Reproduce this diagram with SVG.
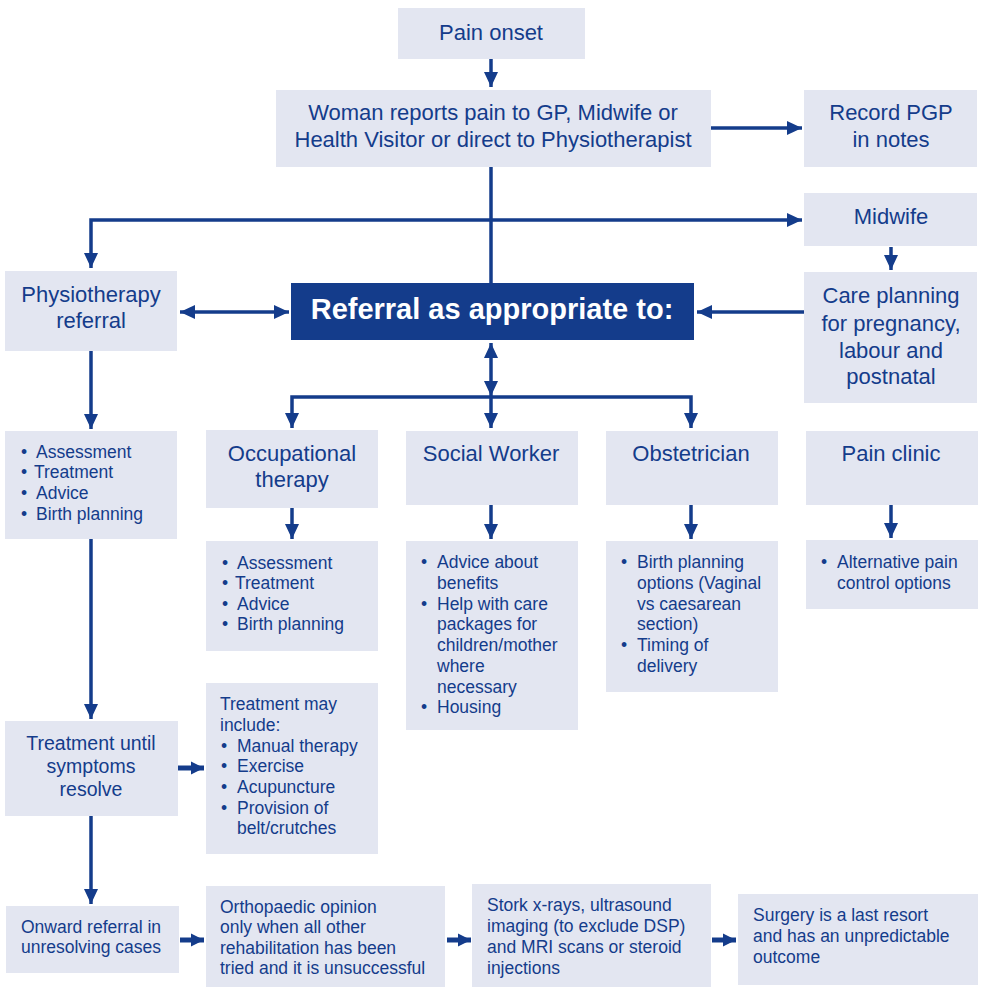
<svg xmlns="http://www.w3.org/2000/svg" width="982" height="987" viewBox="0 0 982 987">
<defs>
<style>
.box{fill:#e3e6f1}
.dark{fill:#143c8b}
text{font-family:"Liberation Sans",Arial,sans-serif;fill:#143c8b}
.h{font-size:22px;text-anchor:middle}
.m{font-size:19.5px;text-anchor:middle}
.s{font-size:17.5px}
.sc{font-size:17.5px;text-anchor:middle}
.w{font-size:29px;font-weight:bold;fill:#ffffff;text-anchor:middle}
.ln{fill:none;stroke:#143c8b;stroke-width:3.5}
.fat{fill:none;stroke:#143c8b;stroke-width:5}
</style>
<marker id="ah" markerUnits="userSpaceOnUse" markerWidth="16" markerHeight="14" refX="15" refY="7" orient="auto-start-reverse" viewBox="0 0 16 14">
<path d="M0,0 L15,7 L0,14 z" fill="#143c8b"/>
</marker>
<marker id="ahs" markerUnits="userSpaceOnUse" markerWidth="14" markerHeight="14" refX="13" refY="7" orient="auto" viewBox="0 0 14 14">
<path d="M0,0.5 L13,7 L0,13.5 z" fill="#143c8b"/>
</marker>
</defs>
<rect width="982" height="987" fill="#ffffff"/>

<g id="connectors">
<line class="ln" x1="491" y1="59" x2="491" y2="87" marker-end="url(#ah)"/>
<line class="ln" x1="711" y1="128" x2="802" y2="128" marker-end="url(#ah)"/>
<line class="ln" x1="491" y1="167" x2="491" y2="284"/>
<path class="ln" d="M91,268 L91,220 L802,220" marker-start="url(#ah)" marker-end="url(#ah)"/>
<line class="ln" x1="891" y1="247" x2="891" y2="270" marker-end="url(#ah)"/>
<line class="ln" x1="804" y1="312" x2="697" y2="312" marker-end="url(#ah)"/>
<line class="ln" x1="180" y1="312" x2="289" y2="312" marker-start="url(#ah)" marker-end="url(#ah)"/>
<line class="ln" x1="491" y1="343" x2="491" y2="396" marker-start="url(#ah)" marker-end="url(#ah)"/>
<path class="ln" d="M292,428 L292,397 L691,397 L691,428" marker-start="url(#ah)" marker-end="url(#ah)"/>
<line class="ln" x1="491" y1="397" x2="491" y2="428" marker-end="url(#ah)"/>
<line class="ln" x1="91" y1="351" x2="91" y2="429" marker-end="url(#ah)"/>
<line class="ln" x1="91" y1="539" x2="91" y2="719" marker-end="url(#ah)"/>
<line class="ln" x1="292" y1="508" x2="292" y2="539" marker-end="url(#ah)"/>
<line class="ln" x1="491" y1="505" x2="491" y2="539" marker-end="url(#ah)"/>
<line class="ln" x1="691" y1="505" x2="691" y2="539" marker-end="url(#ah)"/>
<line class="ln" x1="891" y1="505" x2="891" y2="538" marker-end="url(#ah)"/>
<line class="ln" x1="91" y1="816" x2="91" y2="904" marker-end="url(#ah)"/>
<line class="fat" x1="178" y1="768" x2="204" y2="768" marker-end="url(#ahs)"/>
<line class="fat" x1="180" y1="940" x2="204" y2="940" marker-end="url(#ahs)"/>
<line class="fat" x1="447" y1="940" x2="471" y2="940" marker-end="url(#ahs)"/>
<line class="fat" x1="712" y1="940" x2="736" y2="940" marker-end="url(#ahs)"/>
</g>

<g id="pain-onset">
<rect class="box" x="398" y="8" width="187" height="51"/>
<text class="h" x="491" y="40">Pain onset</text>
</g>

<g id="woman-reports">
<rect class="box" x="276" y="90" width="435" height="77"/>
<text class="h" x="493" y="120">Woman reports pain to GP, Midwife or</text>
<text class="h" x="493" y="147">Health Visitor or direct to Physiotherapist</text>
</g>

<g id="record-pgp">
<rect class="box" x="804" y="90" width="173" height="77"/>
<text class="h" x="891" y="120">Record PGP</text>
<text class="h" x="891" y="147">in notes</text>
</g>

<g id="midwife">
<rect class="box" x="804" y="193" width="173" height="53"/>
<text class="h" x="891" y="224">Midwife</text>
</g>

<g id="care-planning">
<rect class="box" x="804" y="272" width="173" height="131"/>
<text class="h" x="891" y="303">Care planning</text>
<text class="h" x="891" y="331">for pregnancy,</text>
<text class="h" x="891" y="358">labour and</text>
<text class="h" x="891" y="384">postnatal</text>
</g>

<g id="physiotherapy-referral">
<rect class="box" x="5" y="271" width="172" height="80"/>
<text class="h" x="91" y="302">Physiotherapy</text>
<text class="h" x="91" y="328">referral</text>
</g>

<g id="referral-appropriate">
<rect class="dark" x="291" y="283" width="403" height="57"/>
<text class="w" x="492" y="319">Referral as appropriate to:</text>
</g>

<g id="physio-bullets">
<rect class="box" x="5" y="431" width="172" height="108"/>
<text class="s" x="21" y="458">•</text><text class="s" x="36" y="458">Assessment</text>
<text class="s" x="21" y="478">•</text><text class="s" x="34" y="478">Treatment</text>
<text class="s" x="21" y="499">•</text><text class="s" x="36" y="499">Advice</text>
<text class="s" x="21" y="520">•</text><text class="s" x="36" y="520">Birth planning</text>
</g>

<g id="occupational-therapy">
<rect class="box" x="206" y="430" width="172" height="78"/>
<text class="h" x="292" y="461">Occupational</text>
<text class="h" x="292" y="487">therapy</text>
</g>

<g id="social-worker">
<rect class="box" x="406" y="431" width="172" height="74"/>
<text class="h" x="491" y="461">Social Worker</text>
</g>

<g id="obstetrician">
<rect class="box" x="606" y="431" width="172" height="74"/>
<text class="h" x="691" y="461">Obstetrician</text>
</g>

<g id="pain-clinic">
<rect class="box" x="806" y="431" width="172" height="74"/>
<text class="h" x="891" y="461">Pain clinic</text>
</g>

<g id="ot-bullets">
<rect class="box" x="206" y="541" width="172" height="110"/>
<text class="s" x="222" y="569">•</text><text class="s" x="237" y="569">Assessment</text>
<text class="s" x="222" y="589">•</text><text class="s" x="235" y="589">Treatment</text>
<text class="s" x="222" y="610">•</text><text class="s" x="237" y="610">Advice</text>
<text class="s" x="222" y="630">•</text><text class="s" x="237" y="630">Birth planning</text>
</g>

<g id="sw-bullets">
<rect class="box" x="406" y="541" width="172" height="189"/>
<text class="s" x="421" y="568">•</text><text class="s" x="437" y="568">Advice about</text>
<text class="s" x="437" y="589">benefits</text>
<text class="s" x="421" y="610">•</text><text class="s" x="437" y="610">Help with care</text>
<text class="s" x="437" y="630">packages for</text>
<text class="s" x="437" y="651">children/mother</text>
<text class="s" x="437" y="672">where</text>
<text class="s" x="437" y="693">necessary</text>
<text class="s" x="421" y="713">•</text><text class="s" x="437" y="713">Housing</text>
</g>

<g id="obstetrician-bullets">
<rect class="box" x="606" y="541" width="172" height="151"/>
<text class="s" x="621" y="568">•</text><text class="s" x="637" y="568">Birth planning</text>
<text class="s" x="637" y="589">options (Vaginal</text>
<text class="s" x="637" y="610">vs caesarean</text>
<text class="s" x="637" y="630">section)</text>
<text class="s" x="621" y="651">•</text><text class="s" x="637" y="651">Timing of</text>
<text class="s" x="637" y="672">delivery</text>
</g>

<g id="pain-clinic-bullets">
<rect class="box" x="806" y="540" width="172" height="69"/>
<text class="s" x="821" y="568">•</text><text class="s" x="837" y="568">Alternative pain</text>
<text class="s" x="837" y="589">control options</text>
</g>

<g id="treatment-until">
<rect class="box" x="5" y="721" width="173" height="95"/>
<text class="m" x="91" y="750">Treatment until</text>
<text class="m" x="91" y="773">symptoms</text>
<text class="m" x="91" y="796">resolve</text>
</g>

<g id="treatment-may-include">
<rect class="box" x="206" y="683" width="172" height="171"/>
<text class="s" x="220" y="710">Treatment may</text>
<text class="s" x="220" y="731">include:</text>
<text class="s" x="221" y="752">•</text><text class="s" x="237" y="752">Manual therapy</text>
<text class="s" x="221" y="772">•</text><text class="s" x="237" y="772">Exercise</text>
<text class="s" x="221" y="793">•</text><text class="s" x="237" y="793">Acupuncture</text>
<text class="s" x="221" y="814">•</text><text class="s" x="237" y="814">Provision of</text>
<text class="s" x="237" y="834">belt/crutches</text>
</g>

<g id="onward-referral">
<rect class="box" x="6" y="906" width="173" height="67"/>
<text class="sc" x="91" y="933">Onward referral in</text>
<text class="sc" x="91" y="953">unresolving cases</text>
</g>

<g id="orthopaedic-opinion">
<rect class="box" x="206" y="886" width="239" height="101"/>
<text class="s" x="220" y="913">Orthopaedic opinion</text>
<text class="s" x="220" y="933">only when all other</text>
<text class="s" x="220" y="954">rehabilitation has been</text>
<text class="s" x="220" y="974">tried and it is unsuccessful</text>
</g>

<g id="stork-xrays">
<rect class="box" x="472" y="884" width="239" height="103"/>
<text class="s" x="487" y="911">Stork x-rays, ultrasound</text>
<text class="s" x="487" y="932">imaging (to exclude DSP)</text>
<text class="s" x="487" y="953">and MRI scans or steroid</text>
<text class="s" x="487" y="974">injections</text>
</g>

<g id="surgery">
<rect class="box" x="738" y="894" width="240" height="91"/>
<text class="s" x="753" y="921">Surgery is a last resort</text>
<text class="s" x="753" y="942">and has an unpredictable</text>
<text class="s" x="753" y="963">outcome</text>
</g>
</svg>
